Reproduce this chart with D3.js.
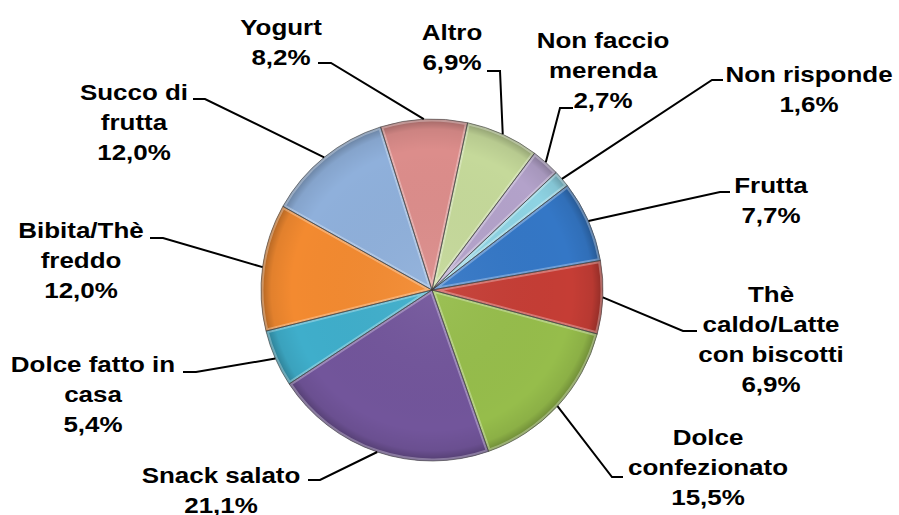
<!DOCTYPE html>
<html>
<head>
<meta charset="utf-8">
<script src="https://cdn.jsdelivr.net/npm/d3@7"></script>
<style>
  body { margin: 0; background: #fff; }
  .lbl { font-family: "Liberation Sans", Arial, sans-serif; font-weight: bold; font-size: 22px; fill: #000; }
</style>
</head>
<body>
<div class="chart"></div>
<script>
var categories = ["Yogurt", "Altro", "Non faccio merenda", "Non risponde", "Frutta",
                  "Thè caldo/Latte con biscotti", "Dolce confezionato", "Snack salato",
                  "Dolce fatto in casa", "Bibita/Thè freddo", "Succo di frutta"];
var values = [8.2, 6.9, 2.7, 1.6, 7.7, 6.9, 15.5, 21.1, 5.4, 12.0, 12.0];
var labelLines = [["Yogurt"], ["Altro"], ["Non faccio", "merenda"], ["Non risponde"], ["Frutta"],
                  ["Thè", "caldo/Latte", "con biscotti"], ["Dolce", "confezionato"], ["Snack salato"],
                  ["Dolce fatto in", "casa"], ["Bibita/Thè", "freddo"], ["Succo di", "frutta"]];
var colors = ["#DC8D8B", "#C5D99A", "#B3A2CA", "#8ED3E3", "#3477C6",
              "#C53D35", "#96BD4B", "#72559B", "#3FAECB", "#F38A30", "#8FB0DB"];

// label layout: text centre x, first baseline y, elbow point and tick end x
var labelPos = [
  {cx: 281, y: 35,  ex: 331, ey: 63,  tx: 318},
  {cx: 452, y: 40,  ex: 500, ey: 71,  tx: 487},
  {cx: 603, y: 48,  ex: 560, ey: 108, tx: 573},
  {cx: 809, y: 82,  ex: 712, ey: 80,  tx: 723},
  {cx: 771, y: 193, ex: 720, ey: 192, tx: 730},
  {cx: 771, y: 302, ex: 683, ey: 331, tx: 697},
  {cx: 708, y: 445, ex: 612, ey: 477, tx: 623},
  {cx: 221, y: 483, ex: 320, ey: 480, tx: 308},
  {cx: 93,  y: 372, ex: 196, ey: 372, tx: 183},
  {cx: 81,  y: 238, ex: 163, ey: 238, tx: 150},
  {cx: 134, y: 100, ex: 205, ey: 99,  tx: 193}
];

var w = 899, h = 515;
var cx = 432, cy = 290, r = 171;
var start = -17.5 * Math.PI / 180;

var fmt = function(v) { return v.toFixed(1).replace(".", ",") + "%"; };

var svg = d3.select(".chart").append("svg")
    .attr("width", w)
    .attr("height", h);

var defs = svg.append("defs");
// rim shading, centred on the pie (slices are drawn around 0,0)
var rg = defs.append("radialGradient")
    .attr("id", "shade")
    .attr("gradientUnits", "userSpaceOnUse")
    .attr("cx", 0).attr("cy", 0).attr("r", r);
rg.append("stop").attr("offset", "0").attr("stop-color", "#fff").attr("stop-opacity", 0.06);
rg.append("stop").attr("offset", "0.82").attr("stop-color", "#000").attr("stop-opacity", 0);
rg.append("stop").attr("offset", "0.94").attr("stop-color", "#000").attr("stop-opacity", 0.07);
rg.append("stop").attr("offset", "1").attr("stop-color", "#000").attr("stop-opacity", 0.28);

var pie = d3.pie().sort(null).startAngle(start).endAngle(start + 2 * Math.PI);
var arcs = pie(values);
var arc = d3.arc().innerRadius(0).outerRadius(r);
var edgeArc = d3.arc().innerRadius(r).outerRadius(r);

// clip paths so the highlight stroke stays inside each slice
defs.selectAll("clipPath")
    .data(arcs)
    .enter()
    .append("clipPath")
    .attr("id", function(d, i) { return "clip" + i; })
    .append("path")
    .attr("d", arc);

var g = svg.append("g").attr("transform", "translate(" + cx + "," + cy + ")");

g.selectAll("path.slice")
    .data(arcs)
    .enter()
    .append("path")
    .attr("class", "slice")
    .attr("d", arc)
    .attr("fill", function(d, i) { return colors[i]; });

g.selectAll("path.shade")
    .data(arcs)
    .enter()
    .append("path")
    .attr("class", "shade")
    .attr("d", arc)
    .attr("fill", "url(#shade)");

// bevel highlight along slice edges
g.selectAll("path.hl")
    .data(arcs)
    .enter()
    .append("path")
    .attr("class", "hl")
    .attr("clip-path", function(d, i) { return "url(#clip" + i + ")"; })
    .attr("d", arc)
    .attr("fill", "none")
    .attr("stroke", "#fff")
    .attr("stroke-opacity", 0.3)
    .attr("stroke-width", 5);

g.selectAll("path.edge")
    .data(arcs)
    .enter()
    .append("path")
    .attr("class", "edge")
    .attr("d", arc)
    .attr("fill", "none")
    .attr("stroke", "#3a3a3a")
    .attr("stroke-opacity", 0.75)
    .attr("stroke-width", 0.8);

// leader lines
svg.append("g").selectAll("path.leader")
    .data(arcs)
    .enter()
    .append("path")
    .attr("class", "leader")
    .attr("d", function(d, i) {
        var p = edgeArc.centroid(d);
        var L = labelPos[i];
        return "M" + (cx + p[0]) + "," + (cy + p[1]) + "L" + L.ex + "," + L.ey + "L" + L.tx + "," + L.ey;
    })
    .attr("fill", "none")
    .attr("stroke", "#000")
    .attr("stroke-width", 2);

// labels
var lg = svg.append("g").selectAll("g.label")
    .data(arcs)
    .enter()
    .append("g")
    .attr("class", "label")
    .attr("transform", function(d, i) { return "translate(" + labelPos[i].cx + "," + labelPos[i].y + ")"; });

lg.append("text")
    .attr("class", "lbl")
    .attr("text-anchor", "middle")
    .attr("transform", "scale(1.18,1)")
    .each(function(d, i) {
        var t = d3.select(this);
        var lines = labelLines[i].concat([fmt(values[i])]);
        lines.forEach(function(s, k) {
            t.append("tspan").attr("x", 0).attr("y", k * 30).text(s);
        });
    });
</script>
</body>
</html>
